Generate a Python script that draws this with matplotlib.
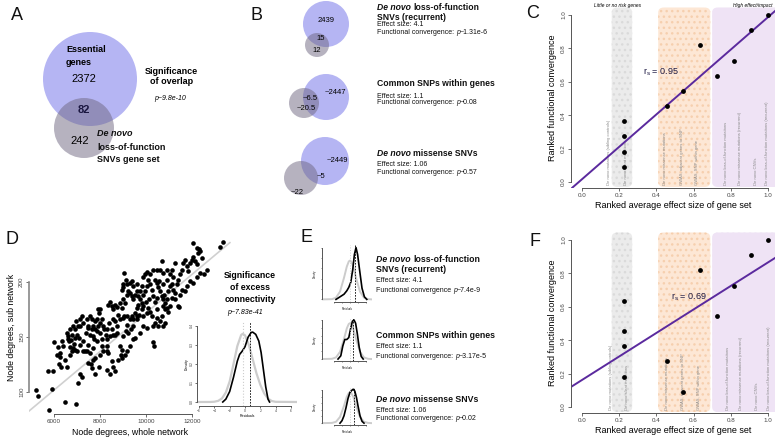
import numpy as np
import matplotlib
matplotlib.use('Agg')
import matplotlib.pyplot as plt
from matplotlib.patches import Circle, FancyBboxPatch

plt.rcParams['font.family'] = ['Liberation Sans', 'DejaVu Sans']

W, H = 777, 445

# ---------------- data ----------------
# A: overlap essential genes / de novo LoF genes
venn_a_counts = ['2372', '82', '242']

# B: gene set overlaps (essential only, both, gene set only)
venn_b_only = ['2439', '~2447', '~2449']
venn_b_both = ['15', '~6.5', '~5']
venn_b_set = ['12', '~20.5', '~22']
effect_sizes = ['4.1', '1.1', '1.06']
b_pvalues = ['~1.31e-6', '~0.08', '~0.57']
e_pvalues = ['~7.4e-9', '~3.17e-5', '~0.02']

# C / F: ranked effect size vs ranked functional convergence
rank_effect = [0.227, 0.227, 0.227, 0.227, 0.455, 0.545, 0.636, 0.727, 0.818, 0.909, 1.0]
c_convergence = [0.364, 0.273, 0.182, 0.091, 0.455, 0.545, 0.818, 0.636, 0.727, 0.909, 1.0]
f_convergence = [0.636, 0.455, 0.364, 0.182, 0.273, 0.091, 0.818, 0.545, 0.727, 0.909, 1.0]
rs_values = ['0.95', '0.69']
gene_set_labels = ['De novo mutations (sibling controls)', 'De novo silent mutations',
                   'De novo missense mutations', 'GWAS, adjacent genes to SNP',
                   'GWAS, SNP within gene', 'De novo loss-of-function mutations',
                   'De novo missense mutations (recurrent)', 'De novo CNVs',
                   'De novo loss-of-function mutations (recurrent)']
c_label_x = [0.143, 0.238, 0.446, 0.539, 0.616, 0.777, 0.848, 0.934, 0.995]
f_label_x = [0.155, 0.240, 0.455, 0.545, 0.630, 0.786, 0.857, 0.940, 1.005]

# D: node degrees, whole network vs sub network
whole_degree = [5217, 5319, 5797, 5928, 5971, 5754, 6000, 6116, 6189, 6261, 6232, 6290, 6479, 6551,
                6624, 6696, 6334, 6406, 6769, 6870, 6957, 7059, 7131, 7204, 7015, 6914, 7102, 6640,
                6740, 6841, 6957, 7030, 7131, 7218, 7276, 7349, 7450, 7494, 7566, 7639, 7595, 7711,
                7784, 7392, 7465, 7494, 7566, 7639, 7711, 7784, 7856, 7929, 7972, 8001, 8074, 8146,
                8175, 8001, 7856, 7682, 7740, 7856, 8074, 8262, 8291, 8364, 8436, 8509, 8581, 8654,
                8726, 8799, 8581, 8654, 8726, 8407, 8509, 8436, 8320, 8291, 8364, 8509, 8581, 8654,
                8799, 8900, 8001, 8146, 7972, 7784, 8436, 8291, 8871, 8944, 9016, 9132, 9234, 9306,
                9379, 9451, 9524, 9596, 9161, 9060, 8987, 8871, 8944, 8871, 9016, 9089, 9161, 9234,
                9306, 9379, 9451, 9524, 9596, 8944, 9016, 8987, 9045, 9132, 9161, 9306, 9451, 9379,
                9596, 9669, 9741, 9814, 9669, 9596, 9814, 9886, 10031, 10104, 10176, 10249, 10321,
                10394, 10466, 10539, 10611, 10756, 10829, 10684, 10466, 10394, 10321, 10249, 10176,
                10104, 10031, 9959, 9886, 9741, 9814, 9886, 9959, 10031, 10176, 10321, 10394, 10466,
                10539, 10611, 10684, 10756, 10829, 10901, 10974, 11046, 10901, 10785, 10974, 11046,
                11119, 11191, 11264, 11336, 11409, 11481, 11554, 11626, 11698, 11771, 11843, 11916,
                11988, 12061, 12134, 12206, 12279, 12351, 12424, 12061, 12206, 12322, 13221, 13337,
                12641, 12525, 12351, 12206, 12061, 11916, 11771, 11698, 11554, 11481, 11409, 11452,
                11264, 10684, 10611, 10466, 10756, 10901, 11046, 11119, 11264, 11191, 10901, 10727,
                10582, 10321, 10350, 10031, 9886, 9741, 9524, 9422, 9306, 9161, 9089, 8944, 8291,
                8074, 7711, 7494, 7276, 7131, 6914, 6769, 6696, 6479, 6261, 10756, 10829, 11119,
                10495, 10147, 10002, 9857, 9712, 9625, 9451, 9335, 9190, 8755, 8654, 8552, 8001,
                7929, 7784, 7639, 7566, 7421, 7276, 7131, 7015, 6914, 6624, 6551, 6696, 6812]
sub_degree = [102, 96, 84, 103, 119, 119, 145, 134, 141, 132, 125, 123, 91, 123,
              148, 141, 146, 142, 152, 144, 89, 108, 116, 114, 137, 138, 149, 146,
              147, 140, 164, 160, 166, 169, 137, 137, 137, 126, 135, 122, 125, 129,
              131, 154, 158, 160, 152, 157, 160, 164, 166, 175, 172, 175, 166, 160,
              157, 154, 155, 151, 148, 146, 148, 152, 157, 179, 182, 178, 175, 179,
              177, 170, 166, 164, 160, 163, 157, 151, 142, 137, 135, 128, 123, 119,
              129, 134, 134, 137, 123, 116, 116, 120, 142, 138, 151, 155, 154, 166,
              169, 166, 172, 169, 169, 169, 167, 166, 176, 181, 184, 181, 188, 192,
              190, 187, 184, 188, 192, 193, 195, 198, 208, 202, 198, 199, 196, 201,
              198, 187, 184, 181, 179, 176, 175, 169, 172, 176, 173, 169, 160,
              163, 167, 160, 164, 160, 163, 169, 175, 182, 187, 193, 198,
              202, 196, 192, 188, 192, 196, 204, 207, 209, 207, 211, 202, 199,
              195, 192, 187, 184, 181, 176, 173, 178, 184, 188, 192, 196,
              198, 193, 190, 198, 202, 207, 211, 217, 220, 214, 210, 217,
              220, 223, 219, 216, 226, 228, 222, 235, 231, 230, 232, 236,
              211, 207, 208, 204, 199, 201, 196, 192, 193, 188, 178, 177,
              184, 219, 211, 211, 208, 211, 207, 211, 217, 204, 202, 198,
              201, 145, 142, 158, 160, 154, 149, 148, 142, 137, 134, 131, 148,
              142, 140, 143, 146, 143, 157, 137, 134, 129, 135, 178, 175, 185,
              185, 184, 182, 178, 170, 166, 160, 157, 161, 154, 152, 152, 163,
              160, 157, 166, 169, 166, 163, 160, 152, 149, 151, 154, 157, 160]
expected_slope = 0.0175
expected_intercept = -3.3

# D inset: residual densities (null = grey, observed = black)
inset_null_x = [-6.3, -4.5, -4, -3.5, -3, -2.5, -2, -1.5, -1, -0.5, -0.3, 0, 0.5, 1, 1.5, 2, 2.5, 3, 3.5, 4, 6.8]
inset_null_y = [0, 0.0002, 0.0015, 0.006, 0.019, 0.05, 0.108, 0.2, 0.294, 0.352, 0.358, 0.35, 0.3,
                0.225, 0.15, 0.09, 0.045, 0.018, 0.005, 0.001, 0]
inset_obs_x = [-2.9, -2.5, -2.0, -1.5, -1.0, -0.7, -0.4, 0.0, 0.4, 0.8, 1.0, 1.4, 1.8, 2.1, 2.4, 2.7, 3.0, 3.2]
inset_obs_y = [0, 0.015, 0.055, 0.13, 0.215, 0.25, 0.265, 0.29, 0.34, 0.365, 0.367, 0.355, 0.32,
               0.26, 0.17, 0.08, 0.015, 0]
inset_obs_mean = 0.6
inset_null_mean = -0.3

# E: residual densities for three gene sets
e_null_x = [-7, -4.5, -3.5, -2.5, -1.5, -0.8, -0.3, 0, 0.3, 0.8, 1.5, 2.5, 3.5, 4.5, 5.5]
e_null_y = [
    [0, 0.003, 0.02, 0.09, 0.25, 0.38, 0.44, 0.45, 0.44, 0.38, 0.25, 0.09, 0.02, 0.003, 0],
    [0, 0.004, 0.025, 0.11, 0.31, 0.47, 0.54, 0.55, 0.54, 0.47, 0.31, 0.11, 0.025, 0.004, 0],
    [0, 0.004, 0.022, 0.1, 0.28, 0.43, 0.49, 0.5, 0.49, 0.43, 0.28, 0.1, 0.022, 0.004, 0],
]
e_obs_x = [
    [-3.5, -2.5, -1.5, -0.8, -0.3, 0.2, 0.7, 1.1, 1.5, 1.9, 2.4, 3.0, 3.6, 4.2],
    [-3.0, -2.3, -1.8, -1.3, -0.8, -0.3, 0.2, 0.6, 1.0, 1.4, 1.8, 2.3, 2.8, 3.3],
    [-2.5, -2.0, -1.5, -1.0, -0.5, 0.0, 0.4, 0.8, 1.2, 1.6, 2.0, 2.5, 3.0, 3.5],
]
e_obs_y = [
    [0, 0.03, 0.06, 0.1, 0.14, 0.2, 0.35, 0.52, 0.6, 0.52, 0.34, 0.13, 0.03, 0],
    [0, 0.05, 0.2, 0.3, 0.3, 0.33, 0.48, 0.58, 0.6, 0.55, 0.4, 0.18, 0.04, 0],
    [0, 0.04, 0.12, 0.25, 0.4, 0.5, 0.53, 0.55, 0.52, 0.42, 0.28, 0.12, 0.03, 0],
]
e_obs_mean = [1.25, 0.8, 0.9]

# ---------------- figure ----------------
fig = plt.figure(figsize=(W / 100, H / 100), dpi=100)
renderer = fig.canvas.get_renderer()

LAV = '#adadf2'
GRY = '#6e6680'
PURPLE = '#5b2a9e'


def px_axes(left, top, right, bottom):
    """axes placed in pixel coordinates (origin top left)"""
    ax = fig.add_axes([left / W, 1 - bottom / H, (right - left) / W, (bottom - top) / H])
    ax.patch.set_alpha(0)
    return ax


def r_style(ax, xb, yb, size=4.5):
    for s in ['top', 'right']:
        ax.spines[s].set_visible(False)
    ax.spines['left'].set_bounds(*yb)
    ax.spines['bottom'].set_bounds(*xb)
    for s in ['left', 'bottom']:
        ax.spines[s].set_color('#555555')
        ax.spines[s].set_linewidth(0.7)
    ax.tick_params(length=2, width=0.6, color='#555555', labelsize=size, labelcolor='#444444', pad=1.5)
    for lab in ax.get_yticklabels():
        lab.set_rotation(90)
        lab.set_va('center')


# overlay in pixel units for venns and free text
ov = px_axes(0, 0, W, H)
ov.set_xlim(0, W)
ov.set_ylim(H, 0)
ov.axis('off')
ov.set_zorder(10)


def put_pieces(x, y, pieces, size):
    """write text pieces side by side; style: n, i, b, bi"""
    for s, style in pieces:
        if s.startswith(' '):
            x += 0.28 * size * 1.389
            s = s.lstrip()
        t = ov.text(x, y, s, fontsize=size, va='center_baseline', ha='left',
                    fontweight='bold' if 'b' in style else 'normal',
                    fontstyle='italic' if 'i' in style else 'normal', color='#111111')
        x += t.get_window_extent(renderer).width


# panel letters
for letter, (lx, ly) in zip('ABCDEF', [(17, 15), (256, 16), (533, 13), (12, 240), (306, 237), (535, 241)]):
    ov.text(lx, ly, letter, fontsize=13, ha='center', va='center', color='#111111')

# ---- A ----
ov.add_patch(Circle((90, 79), 47, color=LAV, alpha=0.9, lw=0))
ov.add_patch(Circle((84, 128), 30, color=GRY, alpha=0.5, lw=0))
ov.text(66, 56, 'Essential\ngenes', fontsize=6.5, fontweight='bold', ha='left', va='center', linespacing=1.45)
ov.text(84, 79, venn_a_counts[0], fontsize=8, ha='center', va='center')
ov.text(84, 110, venn_a_counts[1], fontsize=8, fontweight='bold', ha='center', va='center', color='#1a1640')
ov.text(80, 141, venn_a_counts[2], fontsize=8, ha='center', va='center')
put_pieces(97, 133, [('De novo', 'bi')], 6.5)
put_pieces(97, 146, [('loss-of-function', 'b')], 6.5)
put_pieces(97, 158, [('SNVs gene set', 'b')], 6.5)
ov.text(171, 71, 'Significance', fontsize=6.5, fontweight='bold', ha='center', va='center')
ov.text(172, 82, 'of overlap', fontsize=6.5, fontweight='bold', ha='center', va='center')
ov.text(170, 98, 'p~9.8e-10', fontsize=5, fontstyle='italic', ha='center', va='center')

# ---- B ----
b_big = [(326, 24, 23), (326, 97, 23), (325, 161, 24)]
b_small = [(317, 45, 12), (304, 103, 15), (301, 178, 17)]
b_only_xy = [(326, 21), (335, 92), (337, 161)]
b_both_xy = [(321, 39), (310, 99), (321, 177)]
b_set_xy = [(317, 51), (306, 108), (297, 193)]
for i in range(3):
    ov.add_patch(Circle(b_big[i][:2], b_big[i][2], color=LAV, alpha=0.9, lw=0))
    ov.add_patch(Circle(b_small[i][:2], b_small[i][2], color=GRY, alpha=0.5, lw=0))
    ov.text(*b_only_xy[i], venn_b_only[i], fontsize=5.5, ha='center', va='center')
    ov.text(*b_both_xy[i], venn_b_both[i], fontsize=5.5, ha='center', va='center')
    ov.text(*b_set_xy[i], venn_b_set[i], fontsize=5.5, ha='center', va='center')

b_titles = [[[('De novo', 'bi'), (' loss-of-function', 'b')], [('SNVs (recurrent)', 'b')]],
            [[('Common SNPs within genes', 'b')]],
            [[('De novo', 'bi'), (' missense SNVs', 'b')]]]
b_title_y = [[6, 16], [82], [152]]
b_sub_y = [[24, 31], [95, 102], [164, 171]]
for i in range(3):
    for line, y in zip(b_titles[i], b_title_y[i]):
        put_pieces(377, y, line, 6.2)
    put_pieces(377, b_sub_y[i][0], [('Effect size: ' + effect_sizes[i], 'n')], 5)
    put_pieces(377, b_sub_y[i][1], [('Functional convergence:', 'n'), (' p', 'i'), (b_pvalues[i], 'n')], 5)


# ---- C and F ----
def rank_panel(top, conv, label_x, rs, rs_x, top_labels):
    ax = px_axes(571, top, 775, top + 181.3)
    ax.set_xlim(-0.059, 1.038)
    ax.set_ylim(-0.038, 1.048)
    bands = [(0.16, 0.27, '#ebebeb', '#dadada'), (0.41, 0.69, '#fde7d5', '#f6cfae'),
             (0.70, 1.2, '#efe3f5', '#efe3f5')]
    for x0, x1, fc, hc in bands:
        ax.add_patch(FancyBboxPatch((x0, -0.03), x1 - x0, 1.075, boxstyle='round,pad=0,rounding_size=0.03',
                                    facecolor=fc, edgecolor=hc, hatch='...', lw=0, zorder=0))
    for x, lab in zip(label_x, gene_set_labels):
        ax.text(x, -0.02, lab, rotation=90, fontsize=3, color='#888888', ha='center', va='bottom', zorder=1)
    slope, icpt = np.polyfit(rank_effect, conv, 1)
    xx = np.array([-0.059, 1.038])
    ax.plot(xx, icpt + slope * xx, color=PURPLE, lw=1.4, zorder=2)
    ax.scatter(rank_effect, conv, s=12, c='k', zorder=3, lw=0)
    ax.text(rs_x, 0.655, r'r$_\mathregular{s}$ = ' + rs, fontsize=6.5, ha='left', va='center',
            color='#1a1640', zorder=4)
    if top_labels:
        ax.text(0.19, 1.054, 'Little or no risk genes', fontsize=3.5, fontstyle='italic',
                ha='center', va='center', clip_on=False)
        ax.text(0.92, 1.054, 'High effect/impact', fontsize=3.5, fontstyle='italic',
                ha='center', va='center', clip_on=False)
    ticks = [0.0, 0.2, 0.4, 0.6, 0.8, 1.0]
    ax.set_xticks(ticks)
    ax.set_yticks(ticks)
    ax.set_xticklabels([f'{t:.1f}' for t in ticks])
    ax.set_yticklabels([f'{t:.1f}' for t in ticks])
    r_style(ax, (0, 1), (0, 1), size=4.5)
    ax.set_xlabel('Ranked average effect size of gene set', fontsize=6.5, labelpad=2)
    ax.set_ylabel('Ranked functional convergence', fontsize=6.5, labelpad=3)
    return ax


rank_panel(7, c_convergence, c_label_x, rs_values[0], 0.33, True)
rank_panel(232, f_convergence, f_label_x, rs_values[1], 0.48, False)

# ---- D ----
axd = px_axes(29, 240, 231, 414)
axd.set_xlim(4913, 13700)
axd.set_ylim(80, 238)
xx = np.array([4913, 13652])
axd.plot(xx, expected_intercept + expected_slope * xx, color='#d0d0d0', lw=1.2, zorder=1)
axd.scatter(whole_degree, sub_degree, s=11, c='k', lw=0, zorder=2)
axd.set_xticks([6000, 8000, 10000, 12000])
axd.set_yticks([100, 150, 200])
r_style(axd, (6000, 12000), (100, 200), size=4.5)
axd.spines['left'].set_color('#888888')
axd.spines['left'].set_linewidth(1.2)
axd.set_xlabel('Node degrees, whole network', fontsize=6.3, labelpad=3)
axd.set_ylabel('Node degrees, sub network', fontsize=6.3, labelpad=2)

# inset
axi = px_axes(197, 322, 297, 406)
axi.patch.set_alpha(1)
axi.patch.set_facecolor('white')
axi.set_xlim(-6.26, 6.78)
axi.set_ylim(-0.021, 0.42)
axi.plot(inset_null_x, inset_null_y, color='#cccccc', lw=1.6)
axi.plot(inset_obs_x, inset_obs_y, color='k', lw=1.2)
axi.axvline(inset_null_mean, color='#cccccc', lw=0.8, ls=':')
axi.axvline(inset_obs_mean, color='k', lw=0.6, ls=(0, (2, 1.5)))
axi.set_xticks([-6, -4, -2, 0, 2, 4, 6])
axi.set_yticks([0, 0.1, 0.2, 0.3, 0.4])
r_style(axi, (-6, 6), (0, 0.4), size=2.5)
axi.tick_params(length=1.2, pad=1)
axi.set_xlabel('Residuals', fontsize=2.5, labelpad=1)
axi.set_ylabel('Density', fontsize=2.5, labelpad=1)
ov.text(250, 276, 'Significance', fontsize=6.3, fontweight='bold', ha='center', va='center')
ov.text(250, 288, 'of excess', fontsize=6.3, fontweight='bold', ha='center', va='center')
ov.text(250, 300, 'connectivity', fontsize=6.3, fontweight='bold', ha='center', va='center')
ov.text(245, 312, 'p~7.83e-41', fontsize=5, fontstyle='italic', ha='center', va='center')

# ---- E ----
e_rects = [(245, 302), (318, 361), (388, 425)]
e_ylim = [0.63, 0.63, 0.57]
for i, (t, b) in enumerate(e_rects):
    ax = px_axes(322, t, 372, b)
    ax.set_xlim(-7, 5.5)
    ax.set_ylim(-0.03, e_ylim[i])
    ax.plot(e_null_x, e_null_y[i], color='#cccccc', lw=1.4)
    ax.plot(e_obs_x[i], e_obs_y[i], color='k', lw=1.2)
    ax.axvline(0, color='#cccccc', lw=0.7, ls=':')
    ax.axvline(e_obs_mean[i], color='k', lw=0.6, ls=(0, (2, 1.5)))
    ax.set_xticks([-4, -2, 0, 2, 4])
    ax.set_yticks(np.linspace(0, e_ylim[i] - 0.03, 6))
    ax.set_xticklabels([])
    ax.set_yticklabels([])
    r_style(ax, (-4, 4), (0, e_ylim[i] - 0.03), size=2)
    ax.tick_params(length=1, width=0.5)
    ax.set_ylabel('Density', fontsize=1.8, labelpad=1)
    ax.set_xlabel('Residuals', fontsize=1.8, labelpad=1)

e_title_y = [[258, 269], [334], [398]]
e_sub_y = [[279, 289], [346, 355], [409, 418]]
e_conv_label = ['Functional convergence', 'Functional convergence:', 'Functional convergence:']
for i in range(3):
    for line, y in zip(b_titles[i], e_title_y[i]):
        put_pieces(376, y, line, 6.3)
    put_pieces(376, e_sub_y[i][0], [('Effect size: ' + effect_sizes[i], 'n')], 5)
    put_pieces(376, e_sub_y[i][1], [(e_conv_label[i], 'n'), (' p', 'i'), (e_pvalues[i], 'n')], 5)

fig.savefig('out.png', dpi=100)
